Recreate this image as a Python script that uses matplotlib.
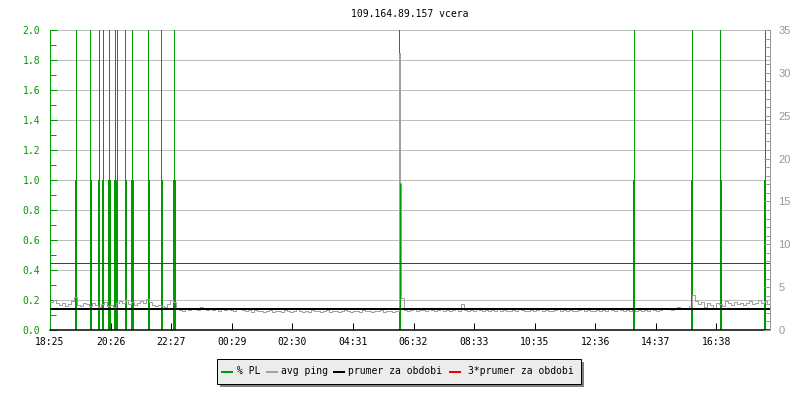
import matplotlib
matplotlib.use("Agg")
import matplotlib.pyplot as plt
import numpy as np
from matplotlib.patches import Rectangle
from matplotlib.lines import Line2D
from matplotlib.ticker import MultipleLocator, FixedLocator

# ---------------- data ----------------
title = "109.164.89.157 vcera"
tick_labels = ["18:25", "20:26", "22:27", "00:29", "02:30", "04:31", "06:32",
               "08:33", "10:35", "12:36", "14:37", "16:38"]
tick_step_min = 121.17          # minutes between labelled ticks
x_span_min = 1440               # visible time span in minutes
sample_step_min = 6             # spacing of ping samples

# packet loss (%) events: minutes since 18:25, value
pl_minutes = [50, 52, 80, 82, 96, 98, 104, 106, 116, 118, 120, 128, 130, 132, 134,
              150, 152, 162, 164, 166, 196, 198, 222, 224, 246, 248, 250,
              698, 700, 1166, 1168, 1282, 1284, 1340, 1342, 1428, 1430]
pl_values = [1.0, 2.0, 2.0, 1.0, 1.0, 2.0, 1.0, 2.0, 1.0, 2.0, 1.0, 1.0, 2.0, 1.0, 2.0,
             2.0, 1.0, 1.0, 2.0, 1.0, 2.0, 1.0, 2.0, 1.0, 1.0, 2.0, 1.0,
             2.0, 1.0, 1.0, 2.0, 1.0, 2.0, 2.0, 1.0, 1.0, 2.0]

# average ping (ms), one value per 6 minutes
ping_evening = [3.3, 3.5, 3.1, 2.9, 3.2, 2.8, 3.0, 3.4, 3.9, 2.9, 2.8, 3.1, 3.0, 2.8,
                3.2, 2.9, 2.7, 3.0, 3.3, 2.8, 2.9, 2.7, 3.1, 3.4, 3.2, 3.5, 3.0, 3.3,
                2.9, 3.1, 3.4, 3.2, 3.6, 3.3, 2.9, 2.8, 2.9, 2.8, 2.7, 3.0, 3.5, 3.3]
ping_late = [2.4, 2.3, 2.2, 2.5, 2.3, 2.6, 2.4, 2.3, 2.7, 2.4, 2.3, 2.5, 2.3, 2.4,
             2.2, 2.6, 2.3, 2.4, 2.3, 2.2, 2.4, 2.5, 2.3, 2.2, 2.3, 2.1, 2.3, 2.2]
ping_night = [2.2, 2.1, 2.2, 2.3, 2.1, 2.2, 2.2, 2.1, 2.3, 2.2, 2.1, 2.2, 2.4, 2.2,
              2.1, 2.2, 2.1, 2.3, 2.2, 2.2, 2.1, 2.2, 2.3, 2.1, 2.2, 2.2, 2.1, 2.2,
              2.3, 2.2, 2.1, 2.2, 2.2, 2.1, 2.3, 2.2, 2.2, 2.1, 2.2, 2.2, 2.3, 2.1,
              2.2, 2.2, 2.1, 2.2]
ping_morning = [2.2, 3.7, 2.3, 2.2, 2.3, 2.4, 2.2, 2.3, 2.3, 2.2, 2.4, 2.3, 2.2, 2.3,
                2.5, 2.2, 2.3, 2.2, 2.3, 2.4, 2.2, 3.0, 2.3, 2.2, 2.3, 2.2, 2.4, 2.3,
                2.2, 2.3, 2.2, 2.3, 2.2, 2.4, 2.2, 2.3, 2.2, 2.2, 2.3, 2.2, 2.4, 2.3,
                2.2, 2.2, 2.3, 2.2, 2.3, 2.4, 2.2, 2.3, 2.2, 2.2, 2.3, 2.5, 2.2, 2.3,
                2.2, 2.3, 2.2, 2.2, 2.3, 2.4, 2.2, 2.3, 2.2, 2.2, 2.3, 2.2]
ping_afternoon = [2.3, 2.2, 2.4, 2.3, 2.2, 2.4, 2.3, 2.2, 2.3, 2.2, 2.4, 2.2, 2.3, 2.2,
                  2.3, 2.2, 2.4, 2.3, 2.2, 2.3, 2.5, 2.4, 2.6, 2.3, 2.5, 2.7, 2.4, 2.6,
                  2.5]
ping_evening2 = [2.8, 4.1, 3.4, 3.0, 3.3, 2.7, 3.1, 2.9, 2.6, 3.2, 3.0, 2.8, 3.4, 3.1,
                 2.9, 3.3, 3.0, 3.2, 2.9, 3.1, 3.4, 3.0, 3.2, 3.5, 3.1, 3.4, 3.2]
# short ping spike around 05:40
spike_minutes = [698, 700]
spike_values = [32.3, 17.2]

ping_mean = 2.5
ping_mean3 = 7.78

# ---------------- styling ----------------
GREEN = "#009900"
GRAY = "#a0a0a0"
GRID = "#bdbdbd"
MONO = "DejaVu Sans Mono"
PX = 0.72  # one pixel in points at dpi=100

fig = plt.figure(figsize=(8, 4), dpi=100)
ax = fig.add_axes([50 / 800, 70 / 400, 720 / 800, 300 / 400])
ax2 = ax.twinx()

# packet loss bars
ax.bar(pl_minutes, pl_values, width=2, align="edge", color=GREEN,
       linewidth=0, zorder=2)

# ping series
grid_vals = ping_evening + ping_late + ping_night + ping_morning + ping_afternoon + ping_evening2
grid_t = [i * sample_step_min for i in range(len(grid_vals))]
pts = sorted(list(zip(grid_t, grid_vals)) + list(zip(spike_minutes, spike_values)))
pt_t = [p[0] for p in pts]
pt_v = [p[1] for p in pts]
ax2.plot(pt_t, pt_v, drawstyle="steps-post", color=GRAY, lw=PX, zorder=3)
ax2.axhline(ping_mean, color="black", lw=2 * PX, zorder=4)
ax2.axhline(ping_mean3, color="#dd0000", lw=PX, zorder=4)

# axes limits
ax.set_xlim(0, x_span_min)
ax.set_ylim(0, 2.0)
ax2.set_ylim(0, 35)

# left axis
ax.yaxis.set_major_locator(MultipleLocator(0.2))
ax.yaxis.set_minor_locator(MultipleLocator(0.1))
ax.yaxis.grid(True, color=GRID, lw=PX)
ax.set_axisbelow(True)
ax.tick_params(axis="y", which="both", direction="in", colors=GREEN,
               labelcolor=GREEN, pad=7, labelsize=7)
ax.tick_params(axis="y", which="major", length=5, width=PX)
ax.tick_params(axis="y", which="minor", length=4, width=PX)
ax.set_yticks(np.arange(0, 2.01, 0.2))
ax.set_yticklabels([f"{v:.1f}" for v in np.arange(0, 2.01, 0.2)], fontfamily=MONO)

# bottom axis
ax.xaxis.set_major_locator(FixedLocator([k * tick_step_min for k in range(len(tick_labels))]))
ax.set_xticklabels(tick_labels, fontfamily=MONO)
ax.tick_params(axis="x", direction="in", length=5, width=PX, colors="black",
               labelsize=7, pad=5)

# right axis
ax2.yaxis.set_major_locator(MultipleLocator(5))
ax2.yaxis.set_minor_locator(MultipleLocator(1))
ax2.tick_params(axis="y", which="both", direction="in", colors="#999999",
                labelcolor="#999999", labelsize=8, pad=6)
ax2.tick_params(axis="y", which="major", length=4, width=PX)
ax2.tick_params(axis="y", which="minor", length=3, width=PX)
for lbl in ax2.get_yticklabels():
    lbl.set_fontfamily("Liberation Sans")

# spines
for a in (ax, ax2):
    a.spines["top"].set_visible(False)
ax.spines["left"].set_color(GREEN)
ax.spines["left"].set_linewidth(PX)
ax.spines["bottom"].set_color("black")
ax.spines["bottom"].set_linewidth(1.5 * PX)
ax.spines["right"].set_visible(False)
ax2.spines["left"].set_visible(False)
ax2.spines["bottom"].set_visible(False)
ax2.spines["right"].set_color("#999999")
ax2.spines["right"].set_linewidth(PX)

# title (centred over the plot area)
fig.text(410 / 800, 1 - 14 / 400, title, ha="center", va="center",
         fontfamily=MONO, fontsize=7, color="black")

# legend (custom, RRD style)
def fx(x):
    return x / 800

def fy(y):
    return 1 - y / 400

fig.add_artist(Rectangle((fx(220), fy(387)), fx(364), 25 / 400, transform=fig.transFigure,
                         facecolor="#808080", edgecolor="none", zorder=5))
fig.add_artist(Rectangle((fx(217), fy(384)), fx(364), 25 / 400, transform=fig.transFigure,
                         facecolor="#ececec", edgecolor="black", lw=PX, zorder=6))
legend_items = [("% PL", GREEN, 222, 237), ("avg ping", GRAY, 267, 281),
                ("prumer za obdobi", "black", 334, 348),
                ("3*prumer za obdobi", "#ee0000", 450, 468)]
for txt, col, lx, tx in legend_items:
    fig.add_artist(Line2D([fx(lx), fx(lx + 10)], [fy(371.5), fy(371.5)],
                          transform=fig.transFigure, color=col, lw=2 * PX, zorder=7))
    fig.text(fx(tx), fy(371), txt, ha="left", va="center", fontfamily=MONO,
             fontsize=7, color="black", zorder=7)

fig.savefig("out.png", dpi=100)
